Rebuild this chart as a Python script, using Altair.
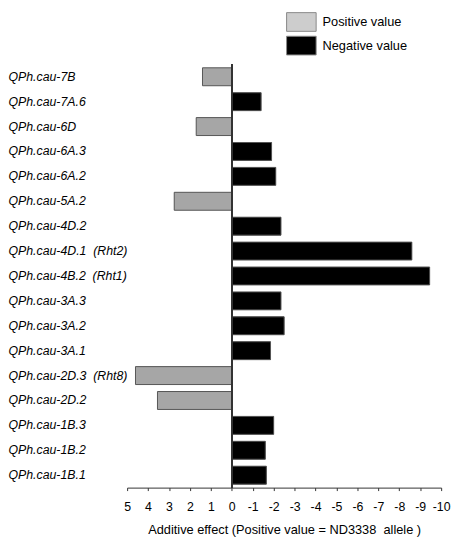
import altair as alt
import pandas as pd

qtl_names = [
    "QPh.cau-7B", "QPh.cau-7A.6", "QPh.cau-6D", "QPh.cau-6A.3", "QPh.cau-6A.2",
    "QPh.cau-5A.2", "QPh.cau-4D.2", "QPh.cau-4D.1\u00a0\u00a0(Rht2)",
    "QPh.cau-4B.2\u00a0\u00a0(Rht1)", "QPh.cau-3A.3", "QPh.cau-3A.2",
    "QPh.cau-3A.1", "QPh.cau-2D.3\u00a0\u00a0(Rht8)", "QPh.cau-2D.2",
    "QPh.cau-1B.3", "QPh.cau-1B.2", "QPh.cau-1B.1",
]
additive_effect = [1.4, -1.4, 1.7, -1.9, -2.1, 2.75, -2.35, -8.6, -9.45,
                   -2.35, -2.5, -1.85, 4.6, 3.55, -2.0, -1.6, -1.65]
x_ticks = [5, 4, 3, 2, 1, 0, -1, -2, -3, -4, -5, -6, -7, -8, -9, -10]
legend_labels = ["Positive value", "Negative value"]

signs = [legend_labels[0] if v > 0 else legend_labels[1] for v in additive_effect]
df = pd.DataFrame({
    "qtl": qtl_names,
    "effect": additive_effect,
    "sign": signs,
    "legend_key": signs,
})

FONT = "Liberation Sans"
W, H = 319, 430

x_scale = alt.Scale(domain=[-10, 5], reverse=True, nice=False)
x_axis = alt.Axis(values=x_ticks, labelExpr="'' + datum.value",
                  labelOverlap=False, labelFlush=False,
                  title="Additive effect (Positive value = ND3338\u00a0\u00a0allele )",
                  titleFont=FONT, titleFontSize=13, titleFontWeight="normal",
                  titleColor="#000000", titlePadding=11,
                  labelFont=FONT, labelFontSize=12.5, labelColor="#000000",
                  labelPadding=10, tickSize=3, tickColor="#333333",
                  domainColor="#333333", grid=False)
y_scale = alt.Scale(paddingInner=0.28, paddingOuter=0.14)
y_axis = alt.Axis(title=None, domain=False, ticks=False,
                  labelAlign="left", labelPadding=121,
                  labelFont=FONT, labelFontStyle="italic",
                  labelFontSize=12.5, labelColor="#000000", labelLimit=200)

# underlying bars carry the legend (lighter swatch colour)
legend_bars = alt.Chart(df).mark_bar().encode(
    y=alt.Y("qtl:N", sort=qtl_names, scale=y_scale, axis=y_axis),
    x=alt.X("effect:Q", scale=x_scale, axis=x_axis),
    x2=alt.datum(0),
    color=alt.Color("legend_key:N",
                    scale=alt.Scale(domain=legend_labels, range=["#cdcdcd", "#000000"]),
                    legend=alt.Legend(title=None, orient="none", legendX=167, legendY=-53,
                                      symbolType="M-1.58,-1L1.58,-1L1.58,1L-1.58,1Z",
                                      symbolSize=361, symbolStrokeColor="#888888",
                                      symbolStrokeWidth=1, symbolOpacity=1,
                                      labelFont=FONT, labelFontSize=13,
                                      labelColor="#000000", labelOffset=11.5,
                                      rowPadding=0)),
)

# visible bars
bars = alt.Chart(df).mark_bar(stroke="#555555", strokeWidth=1).encode(
    y=alt.Y("qtl:N", sort=qtl_names, scale=y_scale, axis=y_axis),
    x=alt.X("effect:Q", scale=x_scale, axis=x_axis),
    x2=alt.datum(0),
    fill=alt.Fill("sign:N",
                  scale=alt.Scale(domain=legend_labels, range=["#a6a6a6", "#000000"]),
                  legend=None),
)

zero_line = alt.Chart(df).mark_rule(color="#333333", strokeWidth=1).encode(
    x=alt.XDatum(0, scale=x_scale, axis=x_axis)
)

chart = alt.layer(legend_bars, bars, zero_line).properties(
    width=W, height=H, padding=0
).configure_view(stroke=None)

chart.save("out.html", embed_options={"renderer": "svg", "actions": False})
